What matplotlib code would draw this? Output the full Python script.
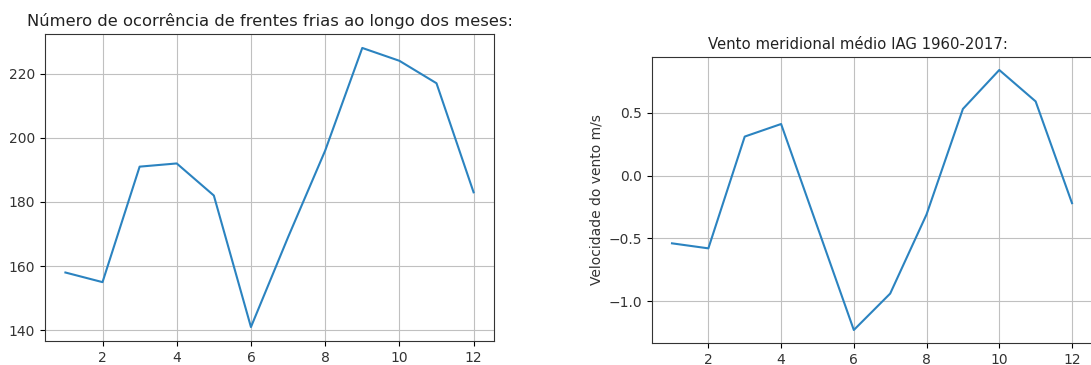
import matplotlib
matplotlib.use("Agg")
import matplotlib.pyplot as plt

months = [1, 2, 3, 4, 5, 6, 7, 8, 9, 10, 11, 12]
frentes = [158, 155, 191, 192, 182, 141, 169, 196, 228, 224, 217, 183]
vento = [-0.54, -0.58, 0.31, 0.41, -0.41, -1.23, -0.94, -0.31, 0.53, 0.84, 0.59, -0.22]

title_left = "Número de ocorrência de frentes frias ao longo dos meses:"
title_right = "Vento meridional médio IAG 1960-2017:"
ylabel_right = "Velocidade do vento m/s"

W, H = 1091, 365
fig = plt.figure(figsize=(W / 100, H / 100), dpi=100)

def px(l, t, r, b):
    return [l / W, 1 - b / H, (r - l) / W, (b - t) / H]

ax1 = fig.add_axes(px(45, 34, 494, 341))
ax1.plot(months, frentes, color="#2b83c0", linewidth=1.5)
ax1.grid(True, color="#c0c0c0")
ax1.set_xticks([2, 4, 6, 8, 10, 12])
ax1.set_yticks([140, 160, 180, 200, 220])
t1 = ax1.set_title(title_left, fontsize=11.8, color="#222222")

R = 1092
ax2 = fig.add_axes(px(652, 57, R, 343))
ax2.plot(months, vento, color="#2b83c0", linewidth=1.5)
ax2.grid(True, color="#c0c0c0")
ax2.set_xticks([2, 4, 6, 8, 10, 12])
ax2.set_yticks([-1.0, -0.5, 0.0, 0.5])
ax2.set_ylabel(ylabel_right, fontsize=10, color="#333333")
t = ax2.set_title(title_right, fontsize=10.75, color="#222222")
t.set_x((858 - 652) / (R - 652))
ax2.spines["right"].set_visible(False)

for ax in (ax1, ax2):
    ax.tick_params(labelcolor="#333333")
    for s in ax.spines.values():
        s.set_color("#333333")

fig.savefig("out.png", dpi=100)
